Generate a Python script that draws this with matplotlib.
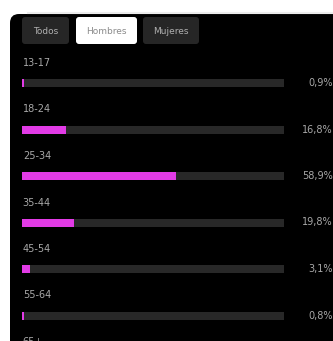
import matplotlib.pyplot as plt
from matplotlib.patches import FancyBboxPatch

# age groups and share of audience (%)
ages = ['13-17', '18-24', '25-34', '35-44', '45-54', '55-64', '65+']
share = [0.9, 16.8, 58.9, 19.8, 3.1, 0.8, 0.3]
share_labels = ['0,9%', '16,8%', '58,9%', '19,8%', '3,1%', '0,8%', '0,3%']
tabs = ['Todos', 'Hombres', 'Mujeres']
active_tab = 'Hombres'

W, H = 333, 341
fig = plt.figure(figsize=(W / 100, H / 100), dpi=100)
fig.patch.set_facecolor('white')

# background panel + tabs, in pixel coords
bg = fig.add_axes([0, 0, 1, 1])
bg.set_xlim(0, W)
bg.set_ylim(H, 0)
bg.axis('off')
bg.plot([28, W], [12.5, 12.5], color='#ececec', lw=1.5)
bg.add_patch(FancyBboxPatch((10, 14), 340, 340, boxstyle='round,pad=0,rounding_size=9',
                            fc='black', ec='none'))

tab_x = [22, 76, 143]
tab_w = [47, 61, 56]
for name, x, w in zip(tabs, tab_x, tab_w):
    on = name == active_tab
    bg.add_patch(FancyBboxPatch((x, 17), w, 27, boxstyle='round,pad=0,rounding_size=3',
                                fc='white' if on else '#262626', ec='none'))
    bg.text(x + w / 2, 31, name, ha='center', va='center', fontsize=6.5,
            color='#8a8a8a' if on else '#b0b0b0')

# bars: row i centred at 83 + 46.5*i px
x0, x1 = 22, 284
step, first = 46.5, 83
ax = fig.add_axes([x0 / W, 0, (x1 - x0) / W, 1])
ax.set_xlim(0, 100)
ax.set_ylim((H - first) / step, -first / step)
ax.axis('off')

rows = list(range(len(ages)))
ax.barh(rows, [100] * len(ages), height=8 / step, color='#282828', clip_on=False)
ax.barh(rows, share, height=8 / step, color='#e23be6', clip_on=False)

for i, (a, lab) in enumerate(zip(ages, share_labels)):
    ax.text(0.3, i - 20 / step, a, ha='left', va='center', fontsize=7,
            color='#a8a8a8', clip_on=False)
    ax.text((333 - x0) / (x1 - x0), i, lab, transform=ax.get_yaxis_transform(),
            ha='right', va='center', fontsize=7, color='#a8a8a8', clip_on=False)

fig.savefig('out.png', dpi=100, facecolor='white')
